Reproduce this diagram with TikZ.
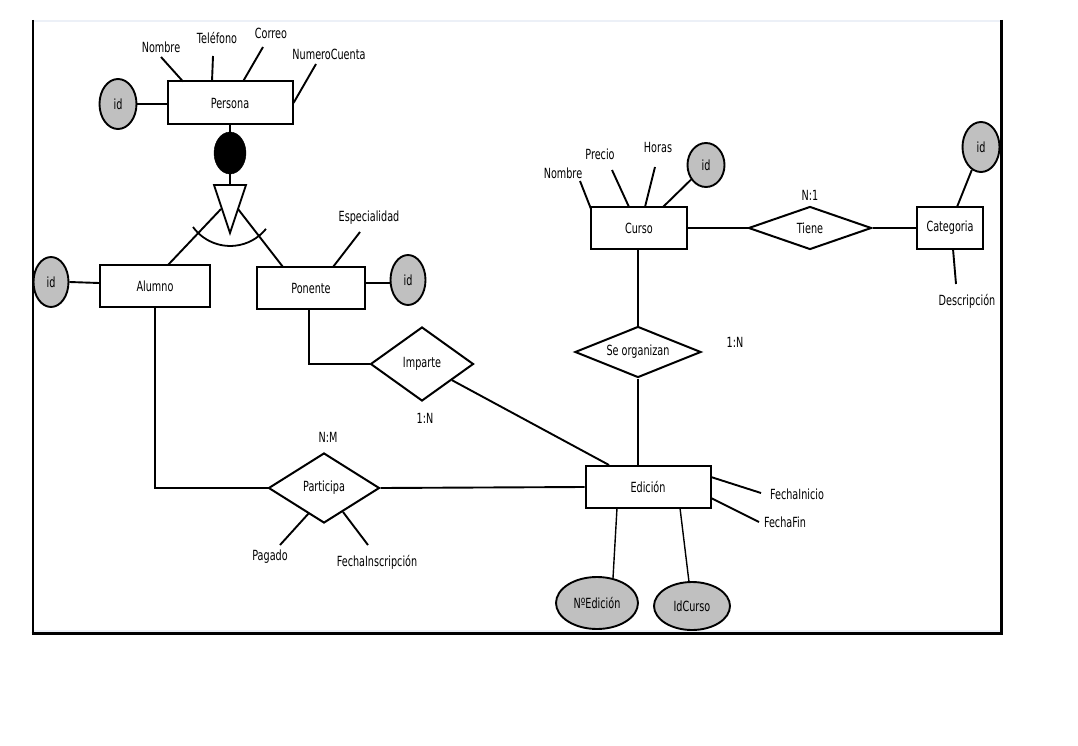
\documentclass[tikz,border=0pt]{standalone}
\usepackage{fontspec}
\setmainfont{DejaVu Sans}[FakeStretch=0.69]
\usetikzlibrary{shapes.geometric}
\definecolor{attrgray}{RGB}{192,192,192}
\definecolor{framefaint}{RGB}{236,240,247}
\begin{document}
\begin{tikzpicture}[x=1pt,y=-1pt,
  every node/.style={font=\fontsize{14}{16}\selectfont, inner sep=0pt},
  conn/.style={line width=1.9pt},
  entity/.style={draw, line width=2pt, rectangle, fill=white},
  relation/.style={draw, line width=2pt, diamond, fill=white},
  keyattr/.style={draw, line width=1.9pt, ellipse, fill=attrgray},
  lbl/.style={}
]
\useasboundingbox (0,0) rectangle (1078,746);
% frame
\draw[framefaint, line width=2pt] (34,21) -- (1000,21);
\draw[framefaint, line width=2pt] (34,630.5) -- (1000,630.5);
\draw[line width=2pt] (32.5,20) -- (32.5,634);
\draw[line width=2.5pt] (1001.5,20) -- (1001.5,634);
\draw[line width=2.5pt] (31.5,633.5) -- (1002.5,633.5);

% entities
\node[entity, minimum width=125pt, minimum height=43pt] (Persona) at (230,103) {Persona};
\node[entity, minimum width=110pt, minimum height=42pt] (Alumno) at (155,286) {Alumno};
\node[entity, minimum width=108pt, minimum height=42pt] (Ponente) at (311,288) {Ponente};
\node[entity, minimum width=96pt, minimum height=42pt] (Curso) at (639,228) {Curso};
\node[entity, minimum width=66pt, minimum height=42pt] (Categoria) at (950,228) {Categoria};
\node[entity, minimum width=125pt, minimum height=42pt] (Edicion) at (648,487) {Edición};

% relations
\node[relation, aspect=2.86, minimum width=123pt, minimum height=43pt] (Tiene) at (810,228) {Tiene};
\node[relation, aspect=2.47, minimum width=126pt, minimum height=51pt] (Seorg) at (638,352) {Se organizan};
\node[relation, aspect=1.39, minimum width=103pt, minimum height=74pt] (Imparte) at (422,364) {Imparte};
\node[relation, aspect=1.59, minimum width=111pt, minimum height=70pt] (Participa) at (324,488) {Participa};

% key attributes
\node[keyattr, minimum width=37pt, minimum height=50pt] (idP) at (118,104) {id};
\node[keyattr, minimum width=35pt, minimum height=50pt] (idA) at (51,282) {id};
\node[keyattr, minimum width=35pt, minimum height=50pt] (idPo) at (408,280) {id};
\node[keyattr, minimum width=37pt, minimum height=44pt] (idC) at (706,165) {id};
\node[keyattr, minimum width=37pt, minimum height=50pt] (idK) at (981,147) {id};
\node[keyattr, minimum width=82pt, minimum height=52pt] (NEd) at (597,603) {NºEdición};
\node[keyattr, minimum width=76pt, minimum height=48pt] (IdCur) at (692,606) {IdCurso};

% specialization symbol
\node[draw, ellipse, fill=black, minimum width=32pt, minimum height=42pt] (disc) at (230,153) {};
\coordinate (triTop) at (230,185);
\coordinate (triL) at (221,209);
\coordinate (triR) at (238,209);
\draw[line width=1.8pt, line join=miter] (214,185) -- (246,185) -- (230,233) -- cycle;
\draw[line width=1.8pt] (193,227) arc[start angle=216, end angle=321, radius=46pt];

% plain attribute labels
\node[lbl] (pNombre) at (161,47) {Nombre};
\node[lbl] (pTel) at (217,38) {Teléfono};
\node[lbl] (pCorreo) at (271,33) {Correo};
\node[lbl] (pCuenta) at (329,54) {NumeroCuenta};
\node[lbl] (poEsp) at (369,218) {Especialidad};
\node[lbl] (cNombre) at (563,173) {Nombre};
\node[lbl] (cPrecio) at (600,154) {Precio};
\node[lbl] (cHoras) at (658,147) {Horas};
\node[lbl] (kDesc) at (967,301) {Descripción};
\node[lbl] (eIni) at (797,494) {FechaInicio};
\node[lbl] (eFin) at (785,522) {FechaFin};
\node[lbl] (rPag) at (270,557) {Pagado};
\node[lbl] (rFIns) at (377,562) {FechaInscripción};

% cardinalities
\node[lbl] (cardNM) at (328,437) {N:M};
\node[lbl] (card1N) at (425,418) {1:N};
\node[lbl] (card1Nb) at (735,342) {1:N};
\node[lbl] (cardN1) at (810,195) {N:1};

% connectors: Persona
\draw[conn] ([shift={(0,10)}]pNombre.center) -- ([shift={(-47,-21.5)}]Persona.center);
\draw[conn] ([shift={(-4,18)}]pTel.center) -- ([shift={(-18,-21.5)}]Persona.center);
\draw[conn] ([shift={(-8,14)}]pCorreo.center) -- ([shift={(13,-21.5)}]Persona.center);
\draw[conn] ([shift={(-13,10)}]pCuenta.center) -- (Persona.east);
\draw[conn] (idP.east) -- (idP.east -| Persona.west);
\draw[conn] (Persona.south) -- (disc.north);
\draw[conn] (disc.south) -- (triTop);
\draw[conn] (triL) -- ([shift={(13,-21)}]Alumno.center);
\draw[conn] (triR) -- ([shift={(-28,-21)}]Ponente.center);

% Alumno / Ponente
\draw[conn] (idA.east) -- ([shift={(0,-3)}]Alumno.west);
\draw[conn] (Ponente.east |- idPo.west) ++(0,3) -- ([shift={(0,3)}]idPo.west);
\draw[conn] ([shift={(-9,14)}]poEsp.center) -- ([shift={(22,-21)}]Ponente.center);
\draw[conn] ([shift={(-2,0)}]Ponente.south) |- (Imparte.west);
\draw[conn] (Alumno.south) |- (Participa.west);

% Curso
\draw[conn] ([shift={(17,8)}]cNombre.center) -- ([shift={(-48,-19)}]Curso.center);
\draw[conn] ([shift={(12,16)}]cPrecio.center) -- ([shift={(-10,-21)}]Curso.center);
\draw[conn] ([shift={(-3,20)}]cHoras.center) -- ([shift={(6,-21)}]Curso.center);
\draw[conn] (idC) -- ([shift={(24,-21)}]Curso.center);
\draw[conn] (Curso.east) -- (Tiene.west);
\draw[conn] (Tiene.east) -- (Categoria.west);
\draw[conn] (idK) -- ([shift={(7,-21)}]Categoria.center);
\draw[conn] ([shift={(3,21)}]Categoria.center) -- ([shift={(-11,-17)}]kDesc.center);
\draw[conn] ([xshift=-1pt]Curso.south) -- (Seorg.north);

% Edicion
\draw[conn] (Seorg.south) -- (Seorg.south |- Edicion.north);
\draw[conn] (Imparte) -- ([shift={(-39,0)}]Edicion.north);
\draw[conn] (Participa.east) -- (Edicion.west);
\draw[conn] ([shift={(63,-10)}]Edicion.center) -- ([shift={(-36,-1)}]eIni.center);
\draw[conn] ([shift={(63,11)}]Edicion.center) -- ([shift={(-26,0)}]eFin.center);
\draw[line width=1.4pt] ([shift={(-31,21)}]Edicion.center) -- ([shift={(16,-25)}]NEd.center);
\draw[line width=1.4pt] ([shift={(32,21)}]Edicion.center) -- ([shift={(-3,-24)}]IdCur.center);

% Participa attributes
\draw[conn] ([shift={(10,-12)}]rPag.center) -- ([shift={(-15,25)}]Participa.center);
\draw[conn] ([shift={(-9,-17)}]rFIns.center) -- ([shift={(19,24)}]Participa.center);
\end{tikzpicture}
\end{document}
